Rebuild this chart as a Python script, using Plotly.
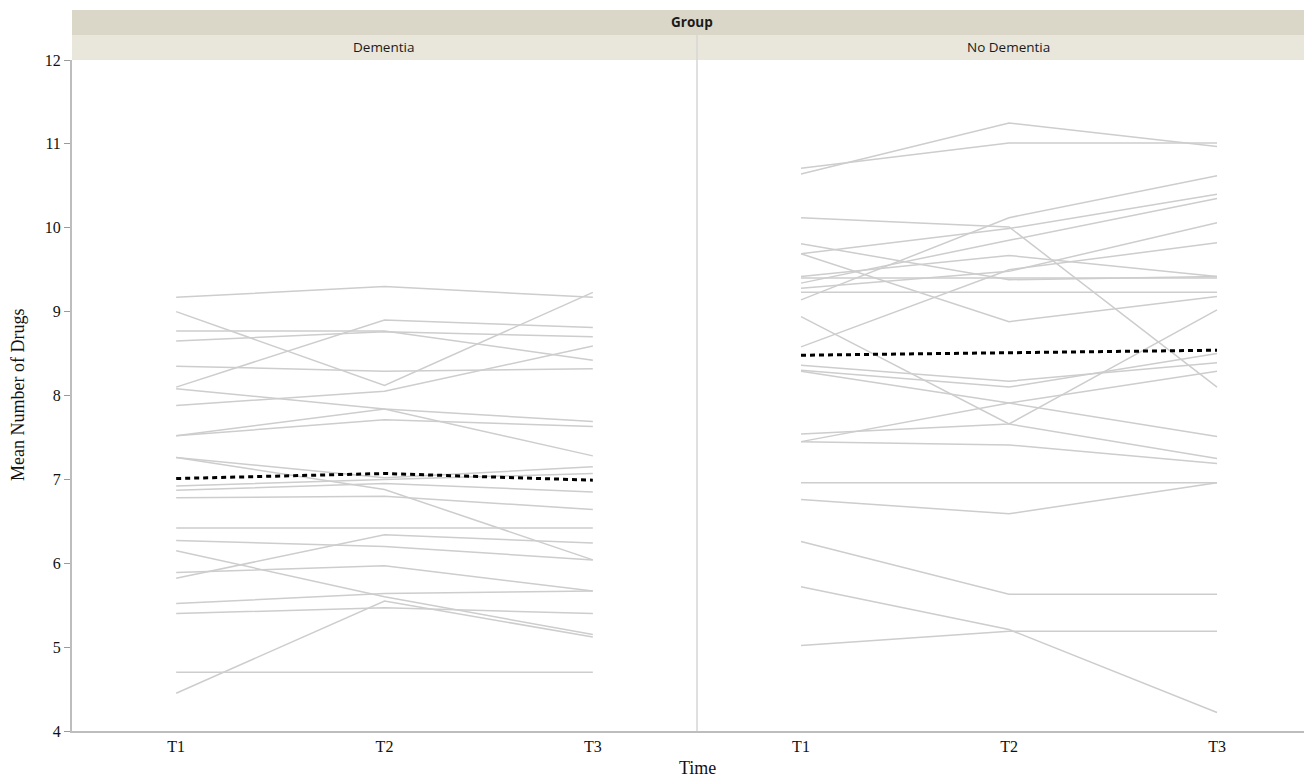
import plotly.graph_objects as go

times = ["T1", "T2", "T3"]
y_ticks = [4, 5, 6, 7, 8, 9, 10, 11, 12]

# Dementia group: one entry per subject
dem_t1 = [9.17, 9.00, 8.10, 8.77, 8.65, 8.35, 8.08, 7.88, 7.52, 7.52, 7.26, 7.26,
          6.92, 6.87, 6.78, 6.42, 6.27, 5.82, 6.15, 5.89, 5.52, 5.40, 4.45, 4.70]
dem_t2 = [9.30, 8.12, 8.90, 8.77, 8.76, 8.29, 7.84, 8.05, 7.84, 7.71, 7.02, 6.88,
          7.00, 6.95, 6.80, 6.42, 6.20, 6.34, 5.60, 5.97, 5.64, 5.47, 5.55, 4.70]
dem_t3 = [9.17, 9.23, 8.81, 8.42, 8.70, 8.32, 7.69, 8.59, 7.28, 7.63, 7.15, 6.04,
          7.07, 6.85, 6.64, 6.42, 6.04, 6.24, 5.15, 5.67, 5.67, 5.40, 5.12, 4.70]
dem_mean = [7.01, 7.07, 6.99]

# No Dementia group
nod_t1 = [10.64, 10.71, 10.12, 9.81, 9.69, 9.69, 9.42, 9.34, 9.14, 8.58, 9.40, 9.23,
          8.94, 7.54, 8.36, 8.30, 8.29, 7.45, 7.45, 6.96, 6.76, 6.26, 5.72, 5.02, 9.28]
nod_t2 = [11.25, 11.01, 10.01, 9.38, 9.99, 8.88, 9.67, 9.85, 10.12, 9.50, 9.40, 9.23,
          7.66, 7.66, 8.17, 8.10, 7.91, 7.91, 7.41, 6.96, 6.59, 5.63, 5.21, 5.19, 9.48]
nod_t3 = [10.97, 11.01, 8.10, 9.42, 10.40, 9.18, 9.42, 10.35, 10.62, 9.82, 9.40, 9.23,
          7.25, 9.02, 8.39, 8.50, 7.51, 8.29, 7.19, 6.96, 6.96, 5.63, 4.22, 5.19, 10.06]
nod_mean = [8.48, 8.51, 8.54]

W, H = 1312, 779
OFF = 8  # page body margin offset
x_left, x_mid = 72 - OFF, 697 - OFF
top_px, bot_px = 60 - OFF, 731 - OFF

fig = go.Figure()

LINE_COLOR = "#cdcdcd"
for a, b, c in zip(dem_t1, dem_t2, dem_t3):
    fig.add_trace(go.Scatter(x=times, y=[a, b, c], mode="lines",
                             line=dict(color=LINE_COLOR, width=1.5),
                             xaxis="x", yaxis="y", showlegend=False, hoverinfo="skip"))
fig.add_trace(go.Scatter(x=times, y=dem_mean, mode="lines",
                         line=dict(color="black", width=3, dash="5px,4px"),
                         xaxis="x", yaxis="y", showlegend=False))
for a, b, c in zip(nod_t1, nod_t2, nod_t3):
    fig.add_trace(go.Scatter(x=times, y=[a, b, c], mode="lines",
                             line=dict(color=LINE_COLOR, width=1.5),
                             xaxis="x2", yaxis="y2", showlegend=False, hoverinfo="skip"))
fig.add_trace(go.Scatter(x=times, y=nod_mean, mode="lines",
                         line=dict(color="black", width=3, dash="5px,4px"),
                         xaxis="x2", yaxis="y2", showlegend=False))

tick_font = dict(family="Liberation Serif", size=16, color="#111")
serif_font = dict(family="Liberation Serif", size=18, color="#111")
sans_font = dict(family="Open Sans", size=13.5, color="#1a1a1a")

fig.update_layout(
    width=W, height=H,
    template="none",
    paper_bgcolor="white", plot_bgcolor="white",
    margin=dict(l=0, r=0, t=top_px, b=H - bot_px),
    xaxis=dict(domain=[x_left / W, x_mid / W], type="category", range=[-0.5, 2.5],
               showgrid=False, zeroline=False, showline=True, linecolor="#bdbdbd",
               linewidth=2, ticks="", tickfont=tick_font, automargin=False),
    xaxis2=dict(domain=[x_mid / W, 1.0], type="category", range=[-0.5, 2.495],
                showgrid=False, zeroline=False, showline=True, linecolor="#bdbdbd",
                linewidth=2, ticks="", tickfont=tick_font, automargin=False),
    yaxis=dict(range=[4, 12], tickvals=y_ticks, showgrid=False, zeroline=False,
               showline=True, linecolor="#bdbdbd", linewidth=2, ticks="outside",
               ticklen=6, tickcolor="#9a9a9a", tickfont=tick_font, automargin=False,
               anchor="x"),
    yaxis2=dict(range=[4, 12], showgrid=False, zeroline=False, showline=False,
                showticklabels=False, ticks="", anchor="x2", automargin=False),
)

plot_h = bot_px - top_px


def py(px_ref):
    return 1 + (top_px - (px_ref - OFF)) / plot_h


def pxr(px_ref):
    return (px_ref - OFF) / W


shapes = [
    # header bands
    dict(type="rect", xref="paper", yref="paper", x0=x_left / W, x1=1.0,
         y0=py(35), y1=py(10), fillcolor="#dad7c8", line=dict(width=0), layer="below"),
    dict(type="rect", xref="paper", yref="paper", x0=x_left / W, x1=1.0,
         y0=py(60), y1=py(35), fillcolor="#e9e7dc", line=dict(width=0), layer="below"),
    # divider between strips and panels
    dict(type="line", xref="paper", yref="paper", x0=x_mid / W, x1=x_mid / W,
         y0=0, y1=py(35), line=dict(color="#d6d6d6", width=1.5)),
]
fig.update_layout(shapes=shapes)

annotations = [
    dict(text="<b>Group</b>", xref="paper", yref="paper", x=pxr(692),
         y=py(22.5), showarrow=False, font=sans_font, xanchor="center", yanchor="middle"),
    dict(text="Dementia", xref="paper", yref="paper", x=pxr(384),
         y=py(47.5), showarrow=False, font=sans_font, xanchor="center", yanchor="middle"),
    dict(text="No Dementia", xref="paper", yref="paper", x=pxr(1008),
         y=py(47.5), showarrow=False, font=sans_font, xanchor="center", yanchor="middle"),
    dict(text="Time", xref="paper", yref="paper", x=pxr(697), y=py(768),
         showarrow=False, font=serif_font, xanchor="center", yanchor="middle"),
    dict(text="Mean Number of Drugs", xref="paper", yref="paper", x=pxr(18),
         y=py(395), showarrow=False, font=serif_font, textangle=-90,
         xanchor="center", yanchor="middle"),
]
fig.update_layout(annotations=annotations)

fig.write_html("out.html")
